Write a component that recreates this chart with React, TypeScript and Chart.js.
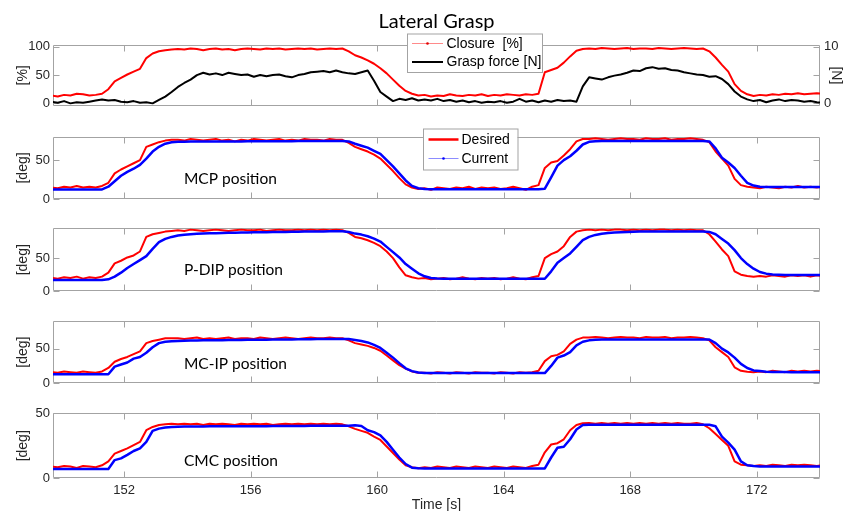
import React, { useEffect, useRef } from "react";
import { Chart, registerables } from "chart.js";

Chart.register(...registerables);

// ---------------- data (sampled every 0.2 s) ----------------
const timeS = [
  149.7, 149.9, 150.1, 150.3, 150.5, 150.7, 150.9, 151.1, 151.3, 151.5,
  151.7, 151.9, 152.1, 152.3, 152.5, 152.7, 152.9, 153.1, 153.3, 153.5,
  153.7, 153.9, 154.1, 154.3, 154.5, 154.7, 154.9, 155.1, 155.3, 155.5,
  155.7, 155.9, 156.1, 156.3, 156.5, 156.7, 156.9, 157.1, 157.3, 157.5,
  157.7, 157.9, 158.1, 158.3, 158.5, 158.7, 158.9, 159.1, 159.3, 159.5,
  159.7, 159.9, 160.1, 160.3, 160.5, 160.7, 160.9, 161.1, 161.3, 161.5,
  161.7, 161.9, 162.1, 162.3, 162.5, 162.7, 162.9, 163.1, 163.3, 163.5,
  163.7, 163.9, 164.1, 164.3, 164.5, 164.7, 164.9, 165.1, 165.3, 165.5,
  165.7, 165.9, 166.1, 166.3, 166.5, 166.7, 166.9, 167.1, 167.3, 167.5,
  167.7, 167.9, 168.1, 168.3, 168.5, 168.7, 168.9, 169.1, 169.3, 169.5,
  169.7, 169.9, 170.1, 170.3, 170.5, 170.7, 170.9, 171.1, 171.3, 171.5,
  171.7, 171.9, 172.1, 172.3, 172.5, 172.7, 172.9, 173.1, 173.3, 173.5,
  173.7, 173.9, 174.1,
];

const closurePct = [
  14, 12, 15, 14, 17, 16, 14, 15, 17, 25,
  39, 45, 51, 56, 61, 80, 88, 92, 94, 95,
  96, 95, 97, 96, 94, 96, 97, 95, 96, 94,
  96, 97, 96, 95, 97, 96, 97, 95, 96, 97,
  96, 97, 95, 96, 97, 96, 97, 92, 85, 81,
  76, 70, 62, 53, 42, 31, 22, 17, 14, 15,
  12, 14, 13, 16, 14, 13, 15, 14, 16, 13,
  15, 14, 16, 15, 14, 16, 15, 17, 55, 59,
  63, 72, 83, 93, 96, 97, 96, 98, 97, 96,
  97, 98, 96, 97, 97, 96, 98, 97, 96, 97,
  98, 97, 96, 97, 92, 81, 68, 56, 34, 22,
  16, 13, 15, 14, 16, 15, 17, 16, 18, 16,
  17, 18, 17,
];

const graspForceN = [
  0.3, 0.1, 0.4, 0.0, 0.2, 0.1, 0.3, 0.5, 0.7, 0.5,
  0.6, 0.3, 0.2, 0.4, 0.1, 0.2, 0.0, 0.6, 1.2, 2.0,
  2.9, 3.6, 4.2, 5.0, 5.4, 5.1, 5.3, 5.0, 5.4, 5.2,
  5.0, 5.1, 4.7, 5.0, 4.8, 5.0, 5.1, 4.8, 4.6, 5.0,
  5.2, 5.5, 5.6, 5.7, 5.5, 5.8, 5.5, 5.3, 5.2, 5.5,
  5.8, 4.0, 2.0, 1.2, 0.4, 0.8, 0.6, 0.9, 0.5, 0.7,
  0.5, 0.8, 0.4, 0.6, 0.3, 0.5, 0.2, 0.4, 0.1, 0.3,
  0.2, 0.4, 0.1, 0.3, 0.8, 0.3, 0.5, 0.2, 0.5, 0.3,
  0.6, 0.4, 0.5, 0.3, 3.0, 4.6, 4.4, 4.2, 4.6, 4.9,
  5.1, 5.4, 5.8, 5.7, 6.2, 6.4, 6.1, 6.2, 5.9, 5.8,
  5.5, 5.3, 5.1, 5.0, 4.7, 4.8, 4.3, 3.4, 2.1, 1.2,
  0.7, 0.4, 0.6, 0.2, 0.5, 0.7, 0.4, 0.6, 0.5, 0.3,
  0.4, 0.2, 0.1,
];

const mcpDesired = [
  15, 14, 16, 15, 17, 15, 16, 15, 17, 21,
  33, 38, 42, 46, 50, 67, 70, 73, 75, 76,
  76, 75, 77, 76, 75, 76, 77, 75, 76, 74,
  76, 75, 77, 76, 75, 76, 77, 75, 76, 75,
  77, 76, 76, 75, 77, 76, 76, 72, 67, 64,
  61, 57, 52, 44, 36, 27, 19, 15, 13, 14,
  12, 15, 14, 13, 15, 14, 16, 13, 15, 14,
  15, 13, 14, 16, 14, 12, 16, 18, 40, 47,
  49, 56, 64, 74, 77, 77, 78, 77, 76, 77,
  78, 77, 77, 76, 78, 77, 77, 78, 76, 77,
  77, 78, 77, 76, 73, 61, 52, 43, 26, 18,
  16, 15, 14, 16, 15, 14, 16, 15, 17, 15,
  16, 15, 16,
];

const mcpCurrent = [
  12.3, 12.3, 12.3, 12.3, 12.3, 12.3, 12.3, 12.3, 12.5, 16,
  23, 30, 35, 39, 44, 52, 61, 67, 71, 72.8,
  73.5, 73.6, 73.7, 73.8, 73.8, 73.9, 73.9, 74, 74, 74,
  74, 74.1, 74.1, 74.2, 74.2, 74.2, 74.3, 74.3, 74.3, 74.4,
  74.4, 74.4, 74.5, 74.5, 74.5, 74.5, 74.5, 74, 71, 68.5,
  66, 62, 58, 50, 42, 33, 24, 17, 14, 13,
  12.8, 12.8, 12.8, 12.8, 12.8, 12.8, 12.8, 12.8, 12.8, 12.8,
  12.8, 12.8, 12.8, 12.8, 12.8, 12.8, 12.8, 12.8, 13.5, 28,
  43, 50, 55, 62, 70, 73.5, 74.3, 74.5, 74.5, 74.5,
  74.5, 74.5, 74.5, 74.5, 74.5, 74.5, 74.5, 74.5, 74.5, 74.5,
  74.5, 74.5, 74.5, 74.5, 74, 65, 53, 47, 40, 30,
  21, 17.5, 16, 15.5, 15.5, 15.5, 15.5, 15.5, 15.5, 15.5,
  15.5, 15.5, 15.5,
];

const pdipDesired = [
  20, 19, 21, 20, 22, 19, 21, 20, 22, 28,
  42, 46, 51, 54, 60, 82, 86, 88, 90, 91,
  92, 91, 93, 92, 91, 92, 93, 92, 91, 92,
  93, 92, 92, 93, 91, 92, 93, 92, 92, 93,
  92, 93, 92, 93, 92, 93, 92, 88, 82, 80,
  77, 73, 68, 60, 50, 36, 24, 21, 19, 20,
  18, 19, 20, 18, 19, 21, 19, 18, 20, 19,
  20, 18, 19, 21, 19, 18, 21, 23, 50, 56,
  60, 68, 82, 90, 92, 93, 92, 93, 92, 93,
  93, 92, 93, 92, 93, 92, 93, 93, 92, 93,
  92, 93, 92, 92, 86, 75, 63, 53, 30, 25,
  23, 22, 23, 22, 24, 23, 22, 24, 23, 24,
  22, 24, 23,
];

const pdipCurrent = [
  17, 17, 17, 17, 17, 17, 17, 17, 17, 18,
  22, 28, 35, 41, 47, 53, 64, 74, 79, 82,
  84, 85.3, 86, 86.6, 87, 87.4, 87.7, 88, 88.2, 88.4,
  88.6, 88.8, 89, 89.1, 89.2, 89.4, 89.5, 89.6, 89.8, 89.9,
  90, 90.1, 90.2, 90.3, 90.4, 90.5, 90.5, 89.5, 87, 85.5,
  83, 79.5, 75, 67, 59, 51, 41, 34, 27, 22.5,
  20, 19.2, 18.8, 18.8, 18.8, 18.8, 18.8, 18.8, 18.8, 18.8,
  18.8, 18.8, 18.8, 18.8, 18.8, 18.8, 18.8, 18.8, 18.8, 30,
  43, 50, 57, 67, 77, 82, 85, 86.8, 87.8, 88.5,
  89, 89.4, 89.7, 90, 90, 90, 90, 90, 90, 90,
  90, 90, 90, 90, 89.5, 86, 79, 72, 62, 50,
  41, 34, 29, 26.5, 25.3, 24.7, 24.3, 24.3, 24.3, 24.3,
  24.3, 24.3, 24.3,
];

const mcipDesired = [
  16, 15, 17, 16, 15, 17, 16, 15, 17, 22,
  31, 35, 38, 42, 46, 58, 61, 63, 65, 65,
  65, 64, 65, 66, 64, 65, 64, 65, 66, 64,
  65, 65, 64, 66, 65, 64, 65, 66, 65, 64,
  65, 66, 65, 65, 66, 65, 65, 62, 58, 56,
  54, 51, 47, 40, 33, 26, 21, 17, 15, 15,
  14, 16, 15, 14, 16, 15, 14, 16, 15, 15,
  14, 16, 15, 14, 16, 15, 16, 18, 32, 39,
  41, 46, 57, 63, 66, 66, 67, 66, 65, 66,
  67, 66, 66, 65, 67, 66, 66, 67, 65, 66,
  66, 67, 66, 65, 62, 52, 45, 38, 23, 18,
  16.5, 16, 17, 16, 18, 17, 16, 18, 17, 18,
  17, 18, 17,
];

const mcipCurrent = [
  12.8, 12.8, 12.8, 12.8, 12.8, 12.8, 12.8, 12.8, 12.8, 13,
  24, 27, 30, 35.6, 38, 44, 52, 58, 60, 60.8,
  61.2, 61.5, 61.7, 61.8, 62, 62.1, 62.2, 62.3, 62.4, 62.5,
  62.6, 62.7, 62.8, 62.9, 63, 63.1, 63.2, 63.3, 63.4, 63.5,
  63.6, 63.7, 63.8, 63.9, 64, 64, 64, 63.8, 62.5, 61,
  59, 55.5, 51, 44, 37, 29, 21.5, 17.5, 15.5, 14.8,
  14.6, 14.6, 14.6, 14.6, 14.6, 14.6, 14.6, 14.6, 14.6, 14.6,
  14.6, 14.6, 14.6, 14.6, 14.6, 14.6, 14.6, 14.6, 14.6, 25,
  37, 40, 45, 54.8, 60, 62, 62.8, 63.4, 63.4, 63.4,
  63.4, 63.4, 63.4, 63.4, 63.4, 63.4, 63.4, 63.4, 63.4, 63.4,
  63.4, 63.4, 63.4, 63.4, 63.2, 58, 50, 44.5, 37, 28,
  22, 18.5, 17.5, 16.5, 16.3, 16.2, 16.1, 16, 16, 16,
  16, 16, 16,
];

const cmcDesired = [
  9, 8.5, 9.5, 9, 8, 9.5, 9, 8.5, 10, 13,
  19, 21, 23, 25.5, 28, 37, 39.5, 41, 41.5, 42,
  41.5, 42, 41.5, 42, 41, 42, 41.5, 42, 41.5, 41,
  42, 41.5, 42, 41.5, 42, 41, 41.5, 42, 41.5, 42,
  41.5, 42, 41.5, 42, 41.5, 42, 41.5, 40, 38, 36.5,
  35, 32, 29.5, 24.5, 19.5, 14.5, 10, 8.5, 7.8, 8.5,
  8, 9, 8.5, 8, 9, 8.5, 8, 9, 8.5, 8,
  9, 8.5, 8, 9, 8.5, 8, 9.5, 10.5, 20, 26,
  27, 30, 37, 41, 42.3, 42.5, 42, 42.5, 42, 42.5,
  42, 42.5, 42, 42.5, 42, 42.5, 42, 42.5, 42, 42.5,
  42, 42, 42.5, 41.5, 38.5, 34, 29.5, 25, 13, 10.5,
  10, 9.5, 10, 9.5, 10.5, 10, 9.5, 10.5, 10, 10.5,
  10, 9.5, 10,
];

const cmcCurrent = [
  7.1, 7.1, 7.1, 7.1, 7.1, 7.1, 7.1, 7.1, 7.1, 7.2,
  14, 15.3, 18, 21, 23, 28, 36.5, 38.2, 39, 39.5,
  39.7, 39.8, 39.8, 39.9, 39.9, 40, 40, 40, 40, 40,
  40, 40, 40.1, 40.1, 40.1, 40.2, 40.2, 40.2, 40.3, 40.3,
  40.3, 40.4, 40.4, 40.4, 40.5, 40.5, 40.5, 40.5, 40.8, 40.3,
  37, 35.5, 33, 28, 22, 16, 11, 8.2, 7.7, 7.6,
  7.6, 7.6, 7.6, 7.6, 7.6, 7.6, 7.6, 7.6, 7.6, 7.6,
  7.6, 7.6, 7.6, 7.6, 7.6, 7.6, 7.6, 7.6, 7.6, 16,
  23.5, 24.3, 30, 37.5, 41, 41.2, 41.2, 41.2, 41.2, 41.2,
  41.2, 41.2, 41.2, 41.2, 41.2, 41.2, 41.2, 41.2, 41.2, 41.2,
  41.2, 41.2, 41.2, 41.2, 41.2, 40, 32, 27.5, 22, 13,
  10, 9.4, 9, 9, 9, 9, 9, 9, 9, 9,
  9, 9, 9,
];

const xTickValues = [152, 156, 160, 164, 168, 172];
const X_MIN = 149.75;
const X_MAX = 174;

// ---------------- styling ----------------
const AXIS_GRAY = "#a3a3a3";
const TEXT_DARK = "#262626";
const SANS = '"Liberation Sans", Arial, Helvetica, sans-serif';
const TICK_FONT = { family: SANS, size: 13, lineHeight: 1.2 };
const TITLE_FONT = { family: SANS, size: 14, lineHeight: 1.2 };
const X_TITLE_FONT = { family: SANS, size: 14, lineHeight: 1.0 };
const TICK_LEN = 6;
const RED = "#ff0000";
const BLUE = "#0000ff";

type Series = { label: string; values: number[]; color: string; width: number; axis: string; order: number };
type LegendItem = { label: string; color: string; width: number; dot?: string };
type LegendSpec = { x: number; y: number; w: number; h: number; lineX0: number; lineX1: number; textX: number; rows: number[]; items: LegendItem[] };
type PanelSpec = {
  top: number; height: number; padTop: number; padBottom: number; padRight: number;
  yMin: number; yMax: number; yTicks: number[]; yTitle: string;
  y2?: { min: number; max: number; ticks: number[]; shown: number[]; title: string };
  series: Series[]; showX: boolean;
  note?: { text: string; t: number; v: number };
  legend?: LegendSpec;
  title?: { text: string; x: number; y: number };
};

const PANELS: PanelSpec[] = [
  {
    top: 0, height: 118, padTop: 44.5, padBottom: 7.7, padRight: 0,
    yMin: -5, yMax: 104, yTicks: [0, 50, 100], yTitle: "[%]",
    y2: { min: -0.5, max: 10.4, ticks: [0, 5, 10], shown: [0, 10], title: "[N]" },
    series: [
      { label: "Closure  [%]", values: closurePct, color: RED, width: 2, axis: "y", order: 1 },
      { label: "Grasp force [N]", values: graspForceN, color: "#000000", width: 2, axis: "y2", order: 0 },
    ],
    showX: false,
    title: { text: "Lateral Grasp", x: 436.5, y: 28 },
    legend: {
      x: 407, y: 33.5, w: 135, h: 38.5, lineX0: 412, lineX1: 443, textX: 446.5, rows: [43.5, 62],
      items: [
        { label: "Closure  [%]", color: "#ff8a8a", width: 1, dot: "#e00000" },
        { label: "Grasp force [N]", color: "#000000", width: 2 },
      ],
    },
  },
  {
    top: 118, height: 92, padTop: 18.7, padBottom: 7.3, padRight: 24,
    yMin: 0, yMax: 80, yTicks: [0, 50], yTitle: "[deg]",
    series: [
      { label: "Desired", values: mcpDesired, color: RED, width: 2, axis: "y", order: 1 },
      { label: "Current", values: mcpCurrent, color: BLUE, width: 2.5, axis: "y", order: 0 },
    ],
    showX: false,
    note: { text: "MCP position", t: 153.89, v: 19.8 },
    legend: {
      x: 423, y: 10.5, w: 94.5, h: 41, lineX0: 428.5, lineX1: 458.5, textX: 461.5, rows: [21.5, 40.5],
      items: [
        { label: "Desired", color: RED, width: 2.5 },
        { label: "Current", color: "#8c8cff", width: 1, dot: BLUE },
      ],
    },
  },
  {
    top: 210, height: 92, padTop: 18.3, padBottom: 8, padRight: 24,
    yMin: 0, yMax: 95, yTicks: [0, 50], yTitle: "[deg]",
    series: [
      { label: "Desired", values: pdipDesired, color: RED, width: 2, axis: "y", order: 1 },
      { label: "Current", values: pdipCurrent, color: BLUE, width: 2.5, axis: "y", order: 0 },
    ],
    showX: false,
    note: { text: "P-DIP position", t: 153.89, v: 25 },
  },
  {
    top: 302, height: 92, padTop: 19, padBottom: 7.3, padRight: 24,
    yMin: 0, yMax: 90, yTicks: [0, 50], yTitle: "[deg]",
    series: [
      { label: "Desired", values: mcipDesired, color: RED, width: 2, axis: "y", order: 1 },
      { label: "Current", values: mcipCurrent, color: BLUE, width: 2.5, axis: "y", order: 0 },
    ],
    showX: false,
    note: { text: "MC-IP position", t: 153.89, v: 20.5 },
  },
  {
    top: 394, height: 117, padTop: 19.3, padBottom: 0, padRight: 24,
    yMin: 0, yMax: 50, yTicks: [0, 50], yTitle: "[deg]",
    series: [
      { label: "Desired", values: cmcDesired, color: RED, width: 2, axis: "y", order: 1 },
      { label: "Current", values: cmcCurrent, color: BLUE, width: 2.5, axis: "y", order: 0 },
    ],
    showX: true,
    note: { text: "CMC position", t: 153.89, v: 9.7 },
  },
];

function makeDecor(p: PanelSpec) {
  return {
    id: "matlabDecor",
    beforeDatasetsDraw(chart: any) {
      const { ctx, chartArea: a, scales } = chart;
      const L = Math.round(a.left) + 0.5;
      const R = Math.round(a.right) - 0.5;
      const T = Math.round(a.top) + 0.5;
      const B = Math.round(a.bottom) - 0.5;
      ctx.save();
      ctx.strokeStyle = AXIS_GRAY;
      ctx.lineWidth = 1;
      ctx.beginPath();
      ctx.rect(L, T, R - L, B - T);
      xTickValues.forEach((v) => {
        const px = Math.round(scales.x.getPixelForValue(v)) + 0.5;
        ctx.moveTo(px, T); ctx.lineTo(px, T + TICK_LEN);
        ctx.moveTo(px, B); ctx.lineTo(px, B - TICK_LEN);
      });
      p.yTicks.forEach((v) => {
        const py = Math.round(scales.y.getPixelForValue(v)) + 0.5;
        ctx.moveTo(L, py); ctx.lineTo(L + TICK_LEN, py);
        if (!p.y2) { ctx.moveTo(R, py); ctx.lineTo(R - TICK_LEN, py); }
      });
      if (p.y2) {
        p.y2.ticks.forEach((v) => {
          const py = Math.round(scales.y2.getPixelForValue(v)) + 0.5;
          ctx.moveTo(R, py); ctx.lineTo(R - TICK_LEN, py);
        });
      }
      ctx.stroke();
      ctx.restore();
    },
    afterDraw(chart: any) {
      const { ctx, scales } = chart;
      ctx.save();
      if (p.title) {
        ctx.fillStyle = "#000";
        ctx.font = '20px Lato, "Open Sans", sans-serif';
        ctx.textAlign = "center";
        ctx.textBaseline = "alphabetic";
        ctx.fillText(p.title.text, p.title.x, p.title.y);
      }
      if (p.note) {
        ctx.fillStyle = "#000";
        ctx.font = '15.5px Lato, "Open Sans", sans-serif';
        ctx.textAlign = "left";
        ctx.textBaseline = "alphabetic";
        ctx.fillText(p.note.text, scales.x.getPixelForValue(p.note.t), scales.y.getPixelForValue(p.note.v));
      }
      if (p.legend) {
        const g = p.legend;
        ctx.fillStyle = "#ffffff";
        ctx.fillRect(g.x, g.y, g.w, g.h);
        ctx.strokeStyle = AXIS_GRAY;
        ctx.lineWidth = 1;
        ctx.strokeRect(g.x + 0.5, g.y + 0.5, g.w, g.h);
        g.items.forEach((it, k) => {
          const y = g.rows[k];
          ctx.beginPath();
          ctx.strokeStyle = it.color;
          ctx.lineWidth = it.width;
          ctx.moveTo(g.lineX0, y);
          ctx.lineTo(g.lineX1, y);
          ctx.stroke();
          if (it.dot) {
            ctx.fillStyle = it.dot;
            ctx.beginPath();
            ctx.arc((g.lineX0 + g.lineX1) / 2, y, 1.3, 0, Math.PI * 2);
            ctx.fill();
          }
          ctx.fillStyle = "#000";
          ctx.font = `14px ${SANS}`;
          ctx.textAlign = "left";
          ctx.textBaseline = "middle";
          ctx.fillText(it.label, g.textX, y + 0.5);
        });
      }
      ctx.restore();
    },
  };
}

function buildConfig(p: PanelSpec): any {
  const datasets = p.series.map((s) => ({
    label: s.label,
    data: s.values.map((v, i) => ({ x: timeS[i], y: v })),
    borderColor: s.color,
    backgroundColor: s.color,
    borderWidth: s.width,
    pointRadius: 0,
    tension: 0,
    fill: false,
    yAxisID: s.axis,
    order: s.order,
    borderJoinStyle: "round",
  }));
  const scales: any = {
    x: {
      type: "linear",
      min: X_MIN,
      max: X_MAX,
      display: p.showX,
      afterBuildTicks: (s: any) => { s.ticks = xTickValues.map((v) => ({ value: v })); },
      afterFit: (s: any) => { if (p.showX) s.height = 32.7; },
      grid: { display: false, drawTicks: false },
      border: { display: false },
      ticks: { font: TICK_FONT, color: TEXT_DARK, padding: 4, maxRotation: 0, autoSkip: false, callback: (v: any) => String(v) },
      title: { display: p.showX, text: "Time [s]", font: X_TITLE_FONT, color: TEXT_DARK, padding: { top: 0, bottom: -1 } },
    },
    y: {
      type: "linear",
      position: "left",
      min: p.yMin,
      max: p.yMax,
      afterBuildTicks: (s: any) => { s.ticks = p.yTicks.map((v) => ({ value: v })); },
      afterFit: (s: any) => { s.width = 53; },
      grid: { display: false, drawTicks: false },
      border: { display: false },
      ticks: { font: TICK_FONT, color: TEXT_DARK, padding: 3, autoSkip: false, callback: (v: any) => String(v) },
      title: { display: true, text: p.yTitle, font: TITLE_FONT, color: TEXT_DARK, padding: { top: 14.5, bottom: 0 } },
    },
  };
  if (p.y2) {
    const y2 = p.y2;
    scales.y2 = {
      type: "linear",
      position: "right",
      min: y2.min,
      max: y2.max,
      afterBuildTicks: (s: any) => { s.ticks = y2.ticks.map((v) => ({ value: v })); },
      afterFit: (s: any) => { s.width = 24; },
      grid: { display: false, drawTicks: false },
      border: { display: false },
      ticks: { font: TICK_FONT, color: TEXT_DARK, padding: 4, autoSkip: false, callback: (v: any) => (y2.shown.includes(v) ? String(v) : "") },
      title: { display: true, text: y2.title, font: TITLE_FONT, color: TEXT_DARK, padding: { top: 0, bottom: 0 } },
    };
  }
  return {
    type: "line",
    data: { datasets },
    options: {
      animation: false,
      responsive: false,
      maintainAspectRatio: false,
      events: [],
      layout: { autoPadding: false, padding: { left: 0, right: p.padRight, top: p.padTop, bottom: p.padBottom } },
      plugins: { legend: { display: false }, tooltip: { enabled: false }, title: { display: false } },
      scales,
    },
    plugins: [makeDecor(p)],
  };
}

function Panel({ spec }: { spec: PanelSpec }) {
  const ref = useRef<HTMLCanvasElement | null>(null);
  useEffect(() => {
    if (!ref.current) return;
    const chart = new Chart(ref.current, buildConfig(spec));
    return () => chart.destroy();
  }, [spec]);
  return (
    <canvas
      ref={ref}
      width={844}
      height={spec.height}
      style={{ position: "absolute", left: 0, top: spec.top, width: 844, height: spec.height, display: "block" }}
    />
  );
}

export default function App() {
  return (
    <div style={{ position: "absolute", left: 0, top: 0, width: 844, height: 511, overflow: "hidden", background: "#ffffff" }}>
      {PANELS.map((p, i) => (
        <Panel key={i} spec={p} />
      ))}
    </div>
  );
}
